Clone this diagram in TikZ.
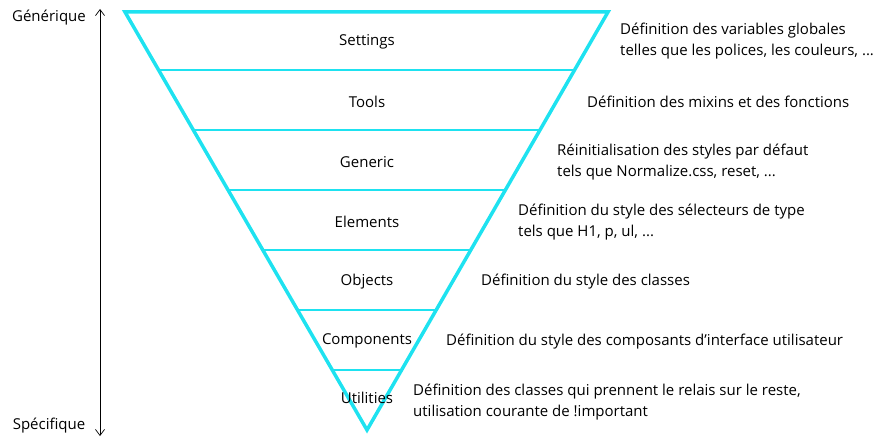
\documentclass[tikz,border=0pt]{standalone}
\usepackage{fontspec}
\setmainfont{Open Sans}
\usetikzlibrary{arrows.meta}
\begin{document}
\begin{tikzpicture}[x=1pt,y=-1pt,
  tri/.style={draw={rgb,255:red,30;green,226;blue,240},line width=3.5pt,line join=miter},
  sep/.style={draw={rgb,255:red,30;green,226;blue,240},line width=1.6pt},
  lay/.style={font=\fontsize{15}{17}\selectfont,anchor=center},
  desc/.style={font=\fontsize{15}{21}\selectfont,anchor=west,align=left,inner sep=0}]
\useasboundingbox (0,0) rectangle (893,444);
\coordinate (A) at (125,12); \coordinate (B) at (608,12); \coordinate (C) at (367,430);
\draw[tri] (A) -- (B) -- (C) -- cycle;
\foreach \yy in {70,130,190,250,310,370}{
  \pgfmathsetmacro{\hw}{0.57775*(430-\yy)}
  \draw[sep] ({366.5-\hw},\yy) -- ({366.5+\hw},\yy);
}
\node[lay] (l1) at (367,42) {Settings};
\node[lay] (l2) at (367,102) {Tools};
\node[lay] (l3) at (367,162) {Generic};
\node[lay] (l4) at (367,222) {Elements};
\node[lay] (l5) at (367,282) {Objects};
\node[lay] (l6) at (367,341) {Components};
\node[lay] (l7) at (367,398) {Utilities};
\node[desc] (d1) at (620,41) {Définition des variables globales\\telles que les polices, les couleurs, ...};
\node[desc] (d2) at (587,102) {Définition des mixins et des fonctions};
\node[desc] (d3) at (557,162) {Réinitialisation des styles par défaut\\tels que Normalize.css, reset, ...};
\node[desc] (d4) at (518,222) {Définition du style des sélecteurs de type\\tels que H1, p, ul, ...};
\node[desc] (d5) at (481,282) {Définition du style des classes};
\node[desc] (d6) at (446,342) {Définition du style des composants d’interface utilisateur};
\node[desc] (d7) at (413,402) {Définition des classes qui prennent le relais sur le reste,\\utilisation courante de !important};
\node[lay] (g) at (49,18) {Générique};
\node[lay] (s) at (49,426) {Spécifique};
\coordinate (t) at (100,9); \coordinate (b) at (100,436);
\draw[line width=0.7pt,<->,>={Straight Barb[length=6pt,width=9pt]}] (t) -- (b);
\end{tikzpicture}
\end{document}
